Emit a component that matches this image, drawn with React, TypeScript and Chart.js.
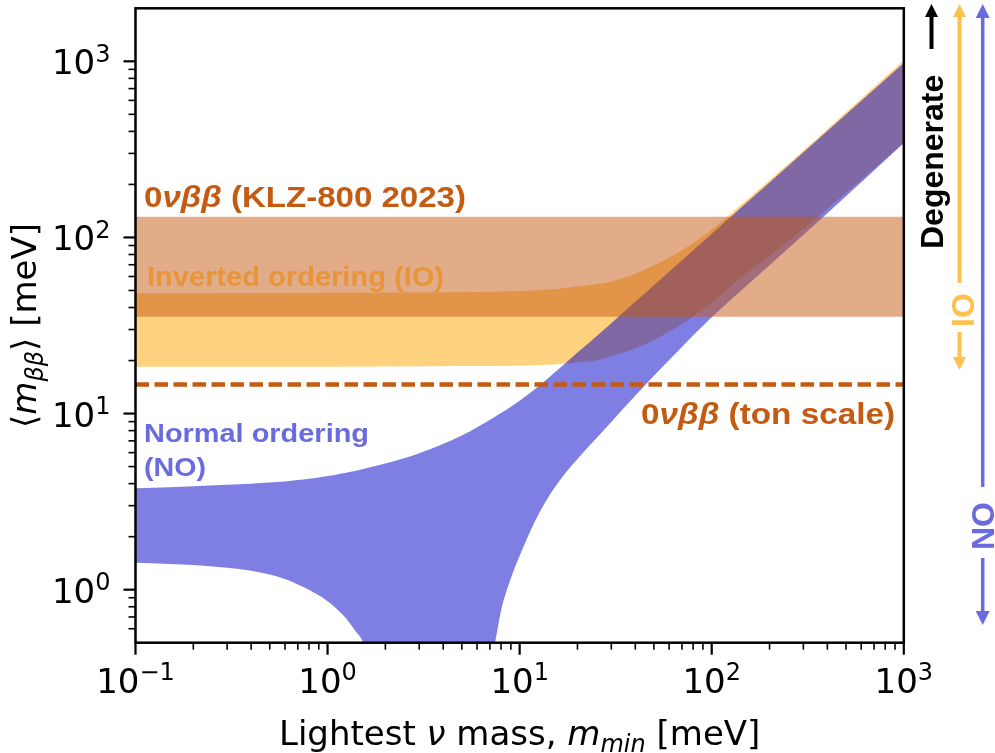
import React, { useEffect, useRef } from 'react';
import { Chart, registerables } from 'chart.js';

Chart.register(...registerables);

// Lightest neutrino mass grid for the normal-ordering band [meV]
const noMass = [0.1, 0.15, 0.2, 0.3, 0.4, 0.5, 0.6, 0.7, 0.8, 0.9, 1, 1.1, 1.2, 1.3, 1.4, 1.53, 2, 3, 5, 7.44, 8, 9, 10, 12, 14, 17, 20, 26, 30, 38, 50, 70, 100, 200, 400, 1000];
// Upper / lower edge of the NO band, <m_bb> [meV]
const noUpper = [3.77, 3.82, 3.87, 3.94, 4.0, 4.06, 4.12, 4.19, 4.26, 4.33, 4.42, 4.5, 4.58, 4.66, 4.74, 4.85, 5.2, 5.95, 7.5, 9.6, 10.06, 10.93, 11.83, 13.74, 15.79, 18.98, 22.2, 28.4, 32.6, 41.1, 53.6, 74.3, 105, 205, 402, 978];
const noLower = [1.42, 1.4, 1.38, 1.33, 1.28, 1.22, 1.15, 1.07, 1.0, 0.93, 0.86, 0.79, 0.72, 0.65, 0.58, 0.5, 0.15, 0.1, 0.1, 0.5, 0.76, 1.16, 1.56, 2.44, 3.31, 4.48, 5.52, 7.55, 8.95, 11.9, 16.4, 23.9, 35.2, 69.5, 137, 344];

// Lightest neutrino mass grid for the inverted-ordering band [meV]
const ioMass = [0.1, 1, 5, 10, 15, 20, 25, 30, 40, 50, 60, 75, 90, 105, 120, 150, 180, 250, 350, 500, 1000];
const ioUpper = [48.2, 48.6, 48.9, 49.7, 50.8, 52.6, 54.2, 56.3, 62.2, 69.5, 76.8, 88.7, 101.5, 115.8, 130.5, 161, 191, 261, 361, 513, 1013];
const ioLower = [18.45, 18.45, 18.6, 18.7, 19.0, 19.5, 20.0, 21.2, 23.5, 26.2, 29.1, 33.8, 39.2, 44.5, 50.5, 62.2, 72.2, 95.5, 128, 178.5, 345];

// KamLAND-Zen 800 (2023) excluded range [lower, upper] and ton-scale sensitivity [meV]
const klzRange = [35.5, 131];
const tonScale = 14.6;

// Axis ranges and decade labels
const xRange = [0.1, 1000];
const yRange = [0.5, 2000];
const xMajor = [0.1, 1, 10, 100, 1000];
const xExp = ['\u22121', '0', '1', '2', '3'];
const yMajor = [1, 10, 100, 1000];
const yExp = ['0', '1', '2', '3'];

const SANS = '"DejaVu Sans", sans-serif';
const ARIAL = '"Liberation Sans", Arial, sans-serif';
const KLZ_COLOR = '#C55A11';
const IO_COLOR = '#FFC04D';
const NO_COLOR = '#6B6BE0';

type Run = { text: string; font: string; dy?: number };

function runsWidth(ctx: CanvasRenderingContext2D, runs: Run[]) {
  let w = 0;
  for (const r of runs) {
    ctx.font = r.font;
    w += ctx.measureText(r.text).width;
  }
  return w;
}

function drawRuns(ctx: CanvasRenderingContext2D, runs: Run[], x: number, y: number) {
  let cx = x;
  for (const r of runs) {
    ctx.font = r.font;
    ctx.fillText(r.text, cx, y + (r.dy || 0));
    cx += ctx.measureText(r.text).width;
  }
}

// Draws runs stretched horizontally to a given width
function drawFitted(ctx: CanvasRenderingContext2D, runs: Run[], x: number, y: number, width: number, color: string) {
  const w = runsWidth(ctx, runs);
  ctx.save();
  ctx.fillStyle = color;
  ctx.translate(x, y);
  ctx.scale(width / w, 1);
  drawRuns(ctx, runs, 0, 0);
  ctx.restore();
}

function drawVertical(ctx: CanvasRenderingContext2D, text: string, font: string, x: number, y: number, color: string) {
  ctx.save();
  ctx.fillStyle = color;
  ctx.font = font;
  ctx.translate(x, y);
  ctx.rotate(-Math.PI / 2);
  ctx.fillText(text, 0, 0);
  ctx.restore();
}

function arrow(ctx: CanvasRenderingContext2D, x: number, yFrom: number, yTip: number, color: string, width: number, head: number) {
  const dir = Math.sign(yTip - yFrom);
  const base = yTip - dir * head;
  ctx.strokeStyle = color;
  ctx.fillStyle = color;
  ctx.lineWidth = width;
  ctx.lineCap = 'butt';
  ctx.beginPath();
  ctx.moveTo(x, yFrom);
  ctx.lineTo(x, base);
  ctx.stroke();
  ctx.beginPath();
  ctx.moveTo(x, yTip);
  ctx.lineTo(x - head / 2, base);
  ctx.lineTo(x + head / 2, base);
  ctx.closePath();
  ctx.fill();
}

function minorTicks(min: number, max: number) {
  const out: number[] = [];
  for (let e = Math.floor(Math.log10(min)); e <= Math.ceil(Math.log10(max)); e++) {
    for (let m = 2; m <= 9; m++) {
      const v = m * Math.pow(10, e);
      if (v > min * 1.0001 && v < max * 0.9999) out.push(v);
    }
  }
  return out;
}

const decorations = {
  id: 'decorations',
  afterDraw(chart: Chart) {
    const { ctx, chartArea: a } = chart;
    const xs = chart.scales.x;
    const ys = chart.scales.y;
    ctx.save();
    ctx.textAlign = 'left';
    ctx.textBaseline = 'alphabetic';

    // axes frame
    ctx.strokeStyle = '#000';
    ctx.lineWidth = 2.5;
    ctx.strokeRect(a.left, a.top, a.right - a.left, a.bottom - a.top);

    // tick marks (outward)
    const tick = (x1: number, y1: number, x2: number, y2: number, w: number) => {
      ctx.lineWidth = w;
      ctx.beginPath();
      ctx.moveTo(x1, y1);
      ctx.lineTo(x2, y2);
      ctx.stroke();
    };
    for (const v of minorTicks(xRange[0], xRange[1])) {
      const px = xs.getPixelForValue(v);
      tick(px, a.bottom, px, a.bottom + 7, 1.6);
    }
    for (const v of xMajor) {
      const px = xs.getPixelForValue(v);
      tick(px, a.bottom, px, a.bottom + 12, 2.2);
    }
    for (const v of minorTicks(yRange[0], yRange[1])) {
      const py = ys.getPixelForValue(v);
      tick(a.left, py, a.left - 7, py, 1.6);
    }
    for (const v of yMajor) {
      const py = ys.getPixelForValue(v);
      tick(a.left, py, a.left - 12, py, 2.2);
    }

    // tick labels
    ctx.fillStyle = '#000';
    xMajor.forEach((v, i) => {
      const runs: Run[] = [
        { text: '10', font: `34px ${SANS}` },
        { text: xExp[i], font: `24px ${SANS}`, dy: -12.5 },
      ];
      const w = runsWidth(ctx, runs);
      drawRuns(ctx, runs, xs.getPixelForValue(v) - w / 2, a.bottom + 50);
    });
    yMajor.forEach((v, i) => {
      const runs: Run[] = [
        { text: '10', font: `34px ${SANS}` },
        { text: yExp[i], font: `24px ${SANS}`, dy: -12.5 },
      ];
      const w = runsWidth(ctx, runs);
      drawRuns(ctx, runs, a.left - 25 - w, ys.getPixelForValue(v) + 13);
    });

    // axis titles
    const xTitle: Run[] = [
      { text: 'Lightest ', font: `34px ${SANS}` },
      { text: '\u03bd', font: `italic 34px ${SANS}` },
      { text: ' mass, ', font: `34px ${SANS}` },
      { text: 'm', font: `italic 34px ${SANS}` },
      { text: 'min', font: `italic 24px ${SANS}`, dy: 7 },
      { text: ' [meV]', font: `34px ${SANS}` },
    ];
    const xw = runsWidth(ctx, xTitle);
    drawRuns(ctx, xTitle, (a.left + a.right) / 2 - xw / 2, a.bottom + 102);

    const yTitle: Run[] = [
      { text: '\u27e8', font: `34px ${SANS}` },
      { text: 'm', font: `italic 34px ${SANS}` },
      { text: '\u03b2\u03b2', font: `italic 24px ${SANS}`, dy: 7 },
      { text: '\u27e9', font: `34px ${SANS}` },
      { text: ' [meV]', font: `34px ${SANS}` },
    ];
    const yw = runsWidth(ctx, yTitle);
    ctx.save();
    ctx.translate(36, (a.top + a.bottom) / 2 + yw / 2);
    ctx.rotate(-Math.PI / 2);
    drawRuns(ctx, yTitle, 0, 0);
    ctx.restore();

    // in-plot annotations
    drawFitted(ctx, [
      { text: '0', font: `bold 30px ${ARIAL}` },
      { text: '\u03bd\u03b2\u03b2', font: `italic bold 30px ${ARIAL}` },
      { text: ' (KLZ-800 2023)', font: `bold 30px ${ARIAL}` },
    ], 144, 207, 322, KLZ_COLOR);
    drawFitted(ctx, [{ text: 'Inverted ordering (IO)', font: `bold 27px ${ARIAL}` }], 147, 286, 297, '#E8953A');
    drawFitted(ctx, [{ text: 'Normal ordering', font: `bold 26px ${ARIAL}` }], 144, 442, 225, NO_COLOR);
    drawFitted(ctx, [{ text: '(NO)', font: `bold 26px ${ARIAL}` }], 144, 476, 62, NO_COLOR);
    drawFitted(ctx, [
      { text: '0', font: `bold 30px ${ARIAL}` },
      { text: '\u03bd\u03b2\u03b2', font: `italic bold 30px ${ARIAL}` },
      { text: ' (ton scale)', font: `bold 30px ${ARIAL}` },
    ], 641, 424, 254, KLZ_COLOR);

    // ordering / degeneracy indicators on the right
    arrow(ctx, 931.5, 49, 4, '#000', 4, 13);
    drawVertical(ctx, 'Degenerate', `bold 32px ${ARIAL}`, 943, 249, '#000');
    arrow(ctx, 959.5, 283, 4, IO_COLOR, 4, 13);
    drawVertical(ctx, 'IO', `bold 32px ${ARIAL}`, 974, 327, IO_COLOR);
    arrow(ctx, 959.5, 332, 370, IO_COLOR, 4, 13);
    arrow(ctx, 982.7, 487, 4, NO_COLOR, 3.5, 14);
    drawVertical(ctx, 'NO', `bold 32px ${ARIAL}`, 994, 550, NO_COLOR);
    arrow(ctx, 982.7, 558, 625, NO_COLOR, 3.5, 14);

    ctx.restore();
  },
};

const points = (xs: number[], ys: number[]) => xs.map((x, i) => ({ x, y: ys[i] }));
const flat = (y: number) => [{ x: xRange[0], y }, { x: xRange[1], y }];

function bandEdge(label: string, data: { x: number; y: number }[], order: number, fill: any, color = 'transparent') {
  return {
    label,
    data,
    order,
    fill,
    backgroundColor: color,
    borderColor: 'transparent',
    borderWidth: 0,
    pointRadius: 0,
    cubicInterpolationMode: 'monotone',
    capBezierPoints: false,
  };
}

export default function App() {
  const ref = useRef<HTMLCanvasElement>(null);

  useEffect(() => {
    const canvas = ref.current;
    if (!canvas) return;
    const chart = new Chart(canvas, {
      type: 'line',
      data: {
        datasets: [
          bandEdge('IO upper', points(ioMass, ioUpper), 5, '+1', 'rgba(255,165,0,0.5)'),
          bandEdge('IO lower', points(ioMass, ioLower), 5, false),
          bandEdge('NO upper', points(noMass, noUpper), 4, '+1', 'rgba(0,0,200,0.5)'),
          bandEdge('NO lower', points(noMass, noLower), 4, false),
          bandEdge('KLZ upper', flat(klzRange[1]), 3, '+1', 'rgba(197,90,17,0.5)'),
          bandEdge('KLZ lower', flat(klzRange[0]), 3, false),
          {
            label: 'ton scale',
            data: flat(tonScale),
            order: 2,
            fill: false,
            borderColor: KLZ_COLOR,
            borderWidth: 4.5,
            borderDash: [13.5, 5.5],
            pointRadius: 0,
          },
        ] as any,
      },
      options: {
        animation: false,
        responsive: false,
        events: [],
        layout: { padding: { left: 135.5, top: 8.3, right: 995 - 903.8, bottom: 753 - 642.7 } },
        scales: {
          x: { type: 'logarithmic', min: xRange[0], max: xRange[1], display: false },
          y: { type: 'logarithmic', min: yRange[0], max: yRange[1], display: false },
        },
        plugins: { legend: { display: false }, tooltip: { enabled: false } },
      },
      plugins: [decorations as any],
    });
    return () => chart.destroy();
  }, []);

  return (
    <div style={{ position: 'absolute', left: 0, top: 0, width: 995, height: 753, background: '#fff' }}>
      <canvas ref={ref} width={995} height={753} style={{ display: 'block' }} />
    </div>
  );
}
